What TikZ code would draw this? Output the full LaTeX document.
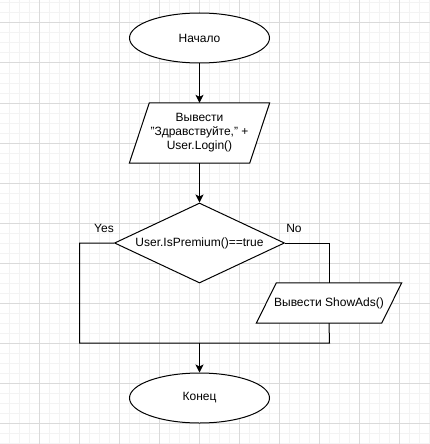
\documentclass[tikz,border=0pt]{standalone}
\usepackage{fontspec}
\setmainfont{Liberation Sans}
\usetikzlibrary{shapes.geometric,arrows.meta}
\definecolor{gridminor}{HTML}{F3F3F3}
\definecolor{gridmajor}{HTML}{DADADA}
\begin{document}
\begin{tikzpicture}[x=1pt,y=-1pt,
  every node/.style={font=\fontsize{12}{14}\selectfont, align=center},
  line/.style={line width=1pt, draw=black},
  arr/.style={line width=1pt, -{Stealth[length=8pt,width=8pt,inset=2pt]}},
  term/.style={ellipse, draw, line width=1pt, minimum width=140pt, minimum height=50pt, inner sep=0pt},
  iobox/.style={rectangle, draw=none, inner sep=0pt},
  decision/.style={diamond, draw, line width=1pt, minimum width=170pt, minimum height=80pt, inner sep=0pt},
  lbl/.style={inner sep=0pt}
]
\useasboundingbox (0,0) rectangle (430,444);
\fill[white] (0,0) rectangle (430,444);
% grid
\foreach \gx in {0,...,42} \draw[gridminor, line width=1pt] (9.5+10*\gx,0) -- (9.5+10*\gx,444);
\foreach \gy in {0,...,44} \draw[gridminor, line width=1pt] (0,3+10*\gy) -- (430,3+10*\gy);
\foreach \gx in {0,...,10} \draw[gridmajor, line width=1pt] (39.5+40*\gx,0) -- (39.5+40*\gx,444);
\foreach \gy in {0,...,10} \draw[gridmajor, line width=1pt] (0,23+40*\gy) -- (430,23+40*\gy);

% nodes
\node[term, fill=white] (start) at (199.5,38) {Начало};

\node[iobox, minimum width=140pt, minimum height=60pt] (p1) at (199.5,133) {};
\filldraw[fill=white, line width=1pt, line join=miter] ([xshift=20pt]p1.north west) -- (p1.north east) -- ([xshift=-20pt]p1.south east) -- (p1.south west) -- cycle;
\node (p1t) at (p1.center) {Вывести\\"Здравствуйте," +\\User.Login()};

\node[decision, fill=white] (dec) at (199.5,243) {};
\node (dect) at (dec.center) {User.IsPremium()==true};

\node[iobox, minimum width=145pt, minimum height=40pt] (p2) at (329,303) {};
\filldraw[fill=white, line width=1pt, line join=miter] ([xshift=20pt]p2.north west) -- (p2.north east) -- ([xshift=-20pt]p2.south east) -- (p2.south west) -- cycle;
\node (p2t) at (p2.center) {Вывести ShowAds()};

\node[term, fill=white] (end) at (199.5,398) {Конец};

\node[lbl] (yes) at (104,228) {Yes};
\node[lbl] (no) at (294,228) {No};

\coordinate (yl) at (79.5,243);
\coordinate (bl) at (79.5,343);
\coordinate (j) at (199.5,343);
\coordinate (br) at (329.5,343);

% connectors
\draw[arr] (start) -- (p1.north);
\draw[arr] (p1.south) -- (dec.north);
\draw[line] (dec.west) -- (yl) -- (bl) -- (br) -- (p2.south);
\draw[line] (dec.east) -| (p2.north);
\draw[arr] (j) -- (end.north);
\end{tikzpicture}
\end{document}
